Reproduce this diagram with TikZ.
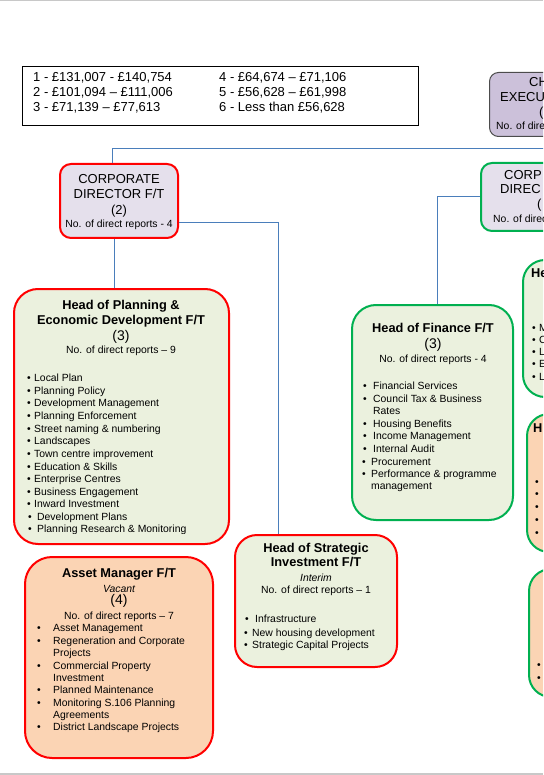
\documentclass[tikz,border=0pt]{standalone}
\usepackage{fontspec}
\setmainfont{Liberation Sans}
\usetikzlibrary{calc}
\definecolor{connc}{HTML}{4A7EBB}
\definecolor{redb}{HTML}{FF0000}
\definecolor{greenb}{HTML}{00B050}
\definecolor{lav}{HTML}{E5E0EC}
\definecolor{ceofill}{HTML}{CCC1DA}
\definecolor{sage}{HTML}{EBF1DE}
\definecolor{peach}{HTML}{FBD4B4}
\definecolor{pagegray}{HTML}{C8C8C8}
\newcommand{\bitem}[4]{\node[lt,sm] at (#1,#3) {•}; \node[lt,sm] at (#2,#3) {#4};}
\begin{document}
\begin{tikzpicture}[x=1pt,y=-1pt,
 box/.style={draw, line width=2pt, inner sep=0pt, anchor=north west},
 t/.style={inner sep=0pt, text height=0.72em, text depth=0pt},
 lt/.style={t, anchor=west},
 ct/.style={t, anchor=center},
 ttl/.style={font=\fontsize{12.8}{14}\selectfont\bfseries},
 mid/.style={font=\fontsize{13}{15}\selectfont},
 num/.style={font=\fontsize{14}{16}\selectfont},
 sm/.style={font=\fontsize{10.4}{12}\selectfont},
 smi/.style={font=\fontsize{10.4}{12}\selectfont\itshape},
 conn/.style={draw=connc, line width=1pt}
]
\useasboundingbox (0,0) rectangle (543,775);
\begin{scope}
\clip (0,0) rectangle (543,775);
% page edges
\draw[pagegray, line width=1.5pt] (0,0.75) -- (543,0.75);
\draw[pagegray, line width=1.5pt] (0,774) -- (543,774);

% boxes
\node[box, draw=black, line width=0.9pt, minimum width=396pt, minimum height=59pt] (leg) at (22,66) {};
\node[box, draw=black!70, line width=1pt, fill=ceofill, rounded corners=9pt, minimum width=80pt, minimum height=64pt] (ceo) at (489,72) {};
\node[box, draw=redb, fill=lav, rounded corners=11pt, minimum width=118pt, minimum height=74pt] (cdl) at (59,163) {};
\node[box, draw=greenb, fill=lav, rounded corners=11pt, minimum width=90pt, minimum height=68pt] (cdr) at (480,162) {};
\node[box, draw=redb, fill=sage, rounded corners=24pt, minimum width=215pt, minimum height=255pt] (plan) at (13,288) {};
\node[box, draw=greenb, fill=sage, rounded corners=24pt, minimum width=161pt, minimum height=215pt] (fin) at (351,304) {};
\node[box, draw=redb, fill=sage, rounded corners=22pt, minimum width=162pt, minimum height=132pt] (si) at (234,534) {};
\node[box, draw=redb, fill=peach, rounded corners=27pt, minimum width=188pt, minimum height=201pt] (am) at (24,556) {};
\node[box, draw=greenb, fill=sage, rounded corners=22pt, minimum width=60pt, minimum height=137pt] (ra) at (522,259) {};
\node[box, draw=greenb, fill=peach, rounded corners=22pt, minimum width=60pt, minimum height=138pt] (rb) at (526,413) {};
\node[box, draw=greenb, fill=peach, rounded corners=22pt, minimum width=60pt, minimum height=128pt] (rc) at (528,568) {};

% connectors
\coordinate (hr) at (560,149);
\draw[conn] ($(cdl.north west)+(53,0)$) |- (hr);
\draw[conn] ($(cdl.north east)+(0,60)$) -| ($(si.north west)+(44,0)$);
\draw[conn] ($(cdl.south west)+(55,0)$) -- ($(plan.north west)+(101,0)$);
\draw[conn] ($(cdr.north west)+(0,35)$) -| ($(fin.north west)+(86,0)$);

% legend
\node[lt,mid] at (33,78) {1 - £131,007 - £140,754};
\node[lt,mid] at (33,93) {2 - £101,094 – £111,006};
\node[lt,mid] at (33,108) {3 - £71,139 – £77,613};
\node[lt,mid] at (219,78) {4 - £64,674 – £71,106};
\node[lt,mid] at (219,93) {5 - £56,628 – £61,998};
\node[lt,mid] at (219,108) {6 - Less than £56,628};

% CEO (partial)
\node[lt,mid] at (529,83) {CH};
\node[lt,mid] at (500,98) {EXECU};
\node[lt,mid] at (539,113) {(};
\node[lt,sm] at (496,126) {No. of dire};

% corporate director right (partial)
\node[lt,mid] at (504,176) {CORP};
\node[lt,mid] at (500,190) {DIREC};
\node[lt,mid] at (537,205) {(};
\node[lt,sm] at (493,219) {No. of direc};

% corporate director left
\node[ct,mid] at (119,180) {CORPORATE};
\node[ct,mid] at (119,195) {DIRECTOR F/T};
\node[ct,mid] at (119,211) {(2)};
\node[ct,sm] at (119,224) {No. of direct reports - 4};

% planning
\node[ct,ttl] at (121,306) {Head of Planning \&};
\node[ct,ttl] at (121,321) {Economic Development F/T};
\node[ct,num] at (121,337) {(3)};
\node[ct,sm] at (121,350) {No. of direct reports – 9};
\bitem{27}{34}{378}{Local Plan}
\bitem{27}{34}{391}{Planning Policy}
\bitem{27}{34}{403}{Development Management}
\bitem{27}{34}{416}{Planning Enforcement}
\bitem{27}{34}{429}{Street naming \& numbering}
\bitem{27}{34}{441}{Landscapes}
\bitem{27}{34}{454}{Town centre improvement}
\bitem{27}{34}{467}{Education \& Skills}
\bitem{27}{34}{479}{Enterprise Centres}
\bitem{27}{34}{492}{Business Engagement}
\bitem{27}{34}{504}{Inward Investment}
\bitem{28}{37}{517}{Development Plans}
\begin{scope}
\clip (0,520) rectangle (543,533.5);
\bitem{28}{37}{529}{Planning Research \& Monitoring}
\end{scope}

% finance
\node[ct,ttl] at (433,329) {Head of Finance F/T};
\node[ct,num] at (433,345) {(3)};
\node[ct,sm] at (433,359) {No. of direct reports - 4};
\bitem{363}{373}{386}{Financial Services}
\bitem{363}{373}{399}{Council Tax \& Business}
\node[lt,sm] at (373,411) {Rates};
\bitem{363}{373}{424}{Housing Benefits}
\bitem{363}{373}{436}{Income Management}
\bitem{363}{373}{449}{Internal Audit}
\bitem{362}{371}{462}{Procurement}
\bitem{362}{371}{474}{Performance \& programme}
\node[lt,sm] at (371,486) {management};

% strategic investment
\node[ct,ttl] at (316,549) {Head of Strategic};
\node[ct,ttl] at (316,563) {Investment F/T};
\node[ct,smi] at (316,578) {Interim};
\node[ct,sm] at (316,590) {No. of direct reports – 1};
\bitem{245}{255}{619}{Infrastructure}
\bitem{244}{252}{633}{New housing development}
\bitem{244}{252}{645}{Strategic Capital Projects}

% asset manager
\node[ct,ttl] at (119,574) {Asset Manager F/T};
\node[ct,smi] at (119,589) {Vacant};
\node[ct,num] at (119,601) {(4)};
\node[ct,sm] at (119,616) {No. of direct reports – 7};
\bitem{37}{53}{628}{Asset Management}
\bitem{37}{53}{641}{Regeneration and Corporate}
\node[lt,sm] at (53,653) {Projects};
\bitem{37}{53}{666}{Commercial Property}
\node[lt,sm] at (53,678) {Investment};
\bitem{37}{53}{690}{Planned Maintenance}
\bitem{37}{53}{703}{Monitoring S.106 Planning}
\node[lt,sm] at (53,715) {Agreements};
\bitem{37}{53}{727}{District Landscape Projects}

% right partial boxes
\node[lt,ttl] at (531,274) {He};
\bitem{532}{539}{328}{M}
\bitem{532}{539}{340}{C}
\bitem{532}{539}{352}{L}
\bitem{532}{539}{364}{E}
\bitem{532}{539}{377}{L}
\node[lt,ttl] at (533,429) {H};
\node[lt,sm] at (535,482) {•};
\node[lt,sm] at (535,494) {•};
\node[lt,sm] at (535,507) {•};
\node[lt,sm] at (535,520) {•};
\node[lt,sm] at (535,533) {•};
\node[lt,sm] at (537,665) {•};
\node[lt,sm] at (537,678) {•};
\end{scope}
\end{tikzpicture}
\end{document}
